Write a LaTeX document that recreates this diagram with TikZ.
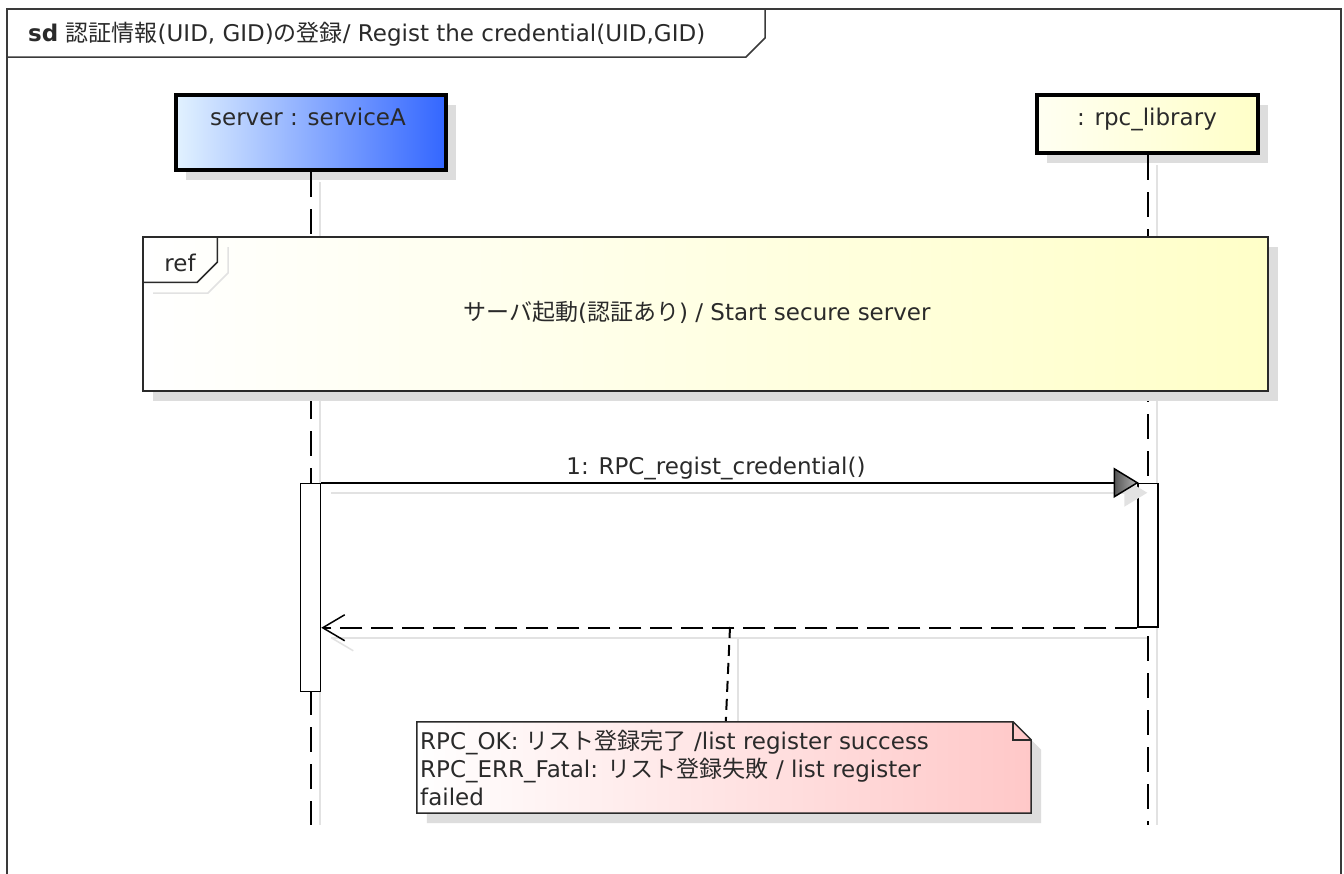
\documentclass[tikz,border=0pt]{standalone}
\usepackage{fontspec}
\setmainfont{DejaVu Sans}
\newfontfamily\jp{Noto Sans CJK JP}[Scale=1.0]
\usetikzlibrary{calc,arrows.meta,shadows}
\definecolor{shd}{HTML}{DDDDDD}
\definecolor{shl}{HTML}{E2E2E2}
\definecolor{txt}{HTML}{2A2A2A}
\definecolor{blueL}{HTML}{E2F2FF}
\definecolor{blueR}{HTML}{3366FF}
\definecolor{yelL}{HTML}{FFFFF2}
\definecolor{yelR}{HTML}{FFFFC8}
\definecolor{pinkR}{HTML}{FFC8C8}
\definecolor{framec}{HTML}{3A3A3A}
\definecolor{arrL}{HTML}{555555}
\definecolor{arrR}{HTML}{B5B5B5}
\begin{document}
\begin{tikzpicture}[x=1pt,y=-1pt,
  every node/.style={text=txt, font=\fontsize{23}{28}\selectfont},
  lbl/.style={inner sep=0pt},
  headbox/.style={draw=black, line width=4pt, inner sep=0pt,
    general shadow={fill=shd, shadow xshift=10pt, shadow yshift=-10pt}},
  lifeline/.style={draw=black, line width=2pt, dash pattern=on 25pt off 12pt},
  shadowline/.style={draw=shl, line width=1.5pt},
  actbox/.style={draw=black, fill=white, line width=1.5pt, inner sep=0pt, minimum width=20pt},
  msgline/.style={draw=black, line width=1.5pt},
  retline/.style={draw=black, line width=1.5pt, dash pattern=on 22pt off 9pt},
  refbox/.style={draw=txt, line width=1.5pt, inner sep=0pt, left color=white, right color=yelR,
    general shadow={fill=shd, shadow xshift=10pt, shadow yshift=-10pt}},
]
\useasboundingbox (0,0) rectangle (1344,873);
\fill[white] (0,0) rectangle (1344,873);

% frame
\draw[framec, line width=2pt] (7,885) -- (7,9) -- (1341,9) -- (1341,885);
\draw[framec, line width=1.5pt] (7,57) -- (746,57) -- (765,38) -- (765,9);
\node[lbl, anchor=base west] (title) at (28,41)
  {\textbf{sd} {\jp 認証情報}(UID, GID){\jp の登録}/ Regist the credential(UID,GID)};

% heads
\node[headbox, left color=blueL, right color=blueR, minimum width=270pt, minimum height=75pt] (A) at (311,132.5) {};
\node[headbox, left color=yelL, right color=yelR, minimum width=221pt, minimum height=58pt] (B) at (1147.5,124) {};
\node[lbl, anchor=base] (Aname) at (308,125) {server : serviceA};
\node[lbl, anchor=base] (Bname) at (1147,125) {: rpc\_library};

% lifelines
\coordinate (Aend) at (311,825);
\coordinate (Bend) at (1148,825);
\draw[shadowline] (320,182) -- (320,825);
\draw[shadowline] (1157,165) -- (1157,825);
\draw[lifeline] (A.south) -- (Aend);
\draw[lifeline] (B.south -| Bend) -- (Bend);

% ref fragment
\node[refbox, minimum width=1125pt, minimum height=154pt] (ref) at (705.5,314) {};
\draw[shadowline] (153,293) -- (208,293) -- (228,273) -- (228,247);
\draw[draw=txt, line width=1.5pt] (ref.north west) ++(0,46) -- ++(55,0) -- ++(20,-20) -- ++(0,-26);
\node[lbl, anchor=base] (reflbl) at (180,271) {ref};
\node[lbl, anchor=base] (reftext) at (697,320) {{\jp サーバ起動}({\jp 認証あり}) / Start secure server};

% activations
\node[actbox, minimum height=208pt] (actA) at (310.5,587.5) {};
\node[actbox, minimum height=143.5pt] (actB) at (1148,555.25) {};

% message 1
\draw[shadowline] ($(actA.north east)+(10,10)$) -- ($(actB.north west)+(-12,10)$);
\fill[shl] ($(actB.north west)+(10,10)$) -- ++(-23,-14) -- ++(0,28) -- cycle;
\draw[msgline] (actA.north east) -- (actB.north west);
\shade[draw=black, line width=1.5pt, left color=arrL, right color=arrR]
  (actB.north west) -- ++(-23,-14) -- ++(0,28) -- cycle;
\node[lbl, anchor=base] (m1) at (716,474) {1: RPC\_regist\_credential()};

% return
\coordinate (retEnd) at (actA.east |- actB.south west);
\draw[shadowline] ($(retEnd)+(10,10)$) -- ($(actB.south west)+(10,10)$);
\draw[shadowline] ($(retEnd)+(10,10)$) -- ++(22,13);
\draw[retline, -{Straight Barb[length=22pt,width=26pt,line width=1.5pt]}] (actB.south west) -- (retEnd);

% note
\node[lbl, minimum width=614pt, minimum height=91pt] (note) at (724,767.5) {};
\coordinate (anc) at (730,627);
\draw[shadowline] (738,637) -- (738,722);
\draw[draw=black, line width=2pt, dash pattern=on 11pt off 7pt] (anc) -- ($(note.north west)+(309,0)$);
\fill[shd] ($(note.north west)+(10,10)$) -- ($(note.north east)+(-8,10)$) -- ($(note.north east)+(10,28)$)
  -- ($(note.south east)+(10,10)$) -- ($(note.south west)+(10,10)$) -- cycle;
\shade[draw=txt, line width=1.5pt, left color=white, right color=pinkR]
  (note.north west) -- ($(note.north east)+(-18,0)$) -- ($(note.north east)+(0,18)$)
  -- (note.south east) -- (note.south west) -- cycle;
\draw[draw=txt, line width=1.5pt] ($(note.north east)+(-18,0)$) -- ++(0,18) -- ++(18,0);
\node[lbl, anchor=base west] (n1) at (420,749) {RPC\_OK: {\jp リスト登録完了} /list register success};
\node[lbl, anchor=base west] (n2) at (420,777) {RPC\_ERR\_Fatal: {\jp リスト登録失敗} / list register};
\node[lbl, anchor=base west] (n3) at (420,805) {failed};
\end{tikzpicture}
\end{document}
